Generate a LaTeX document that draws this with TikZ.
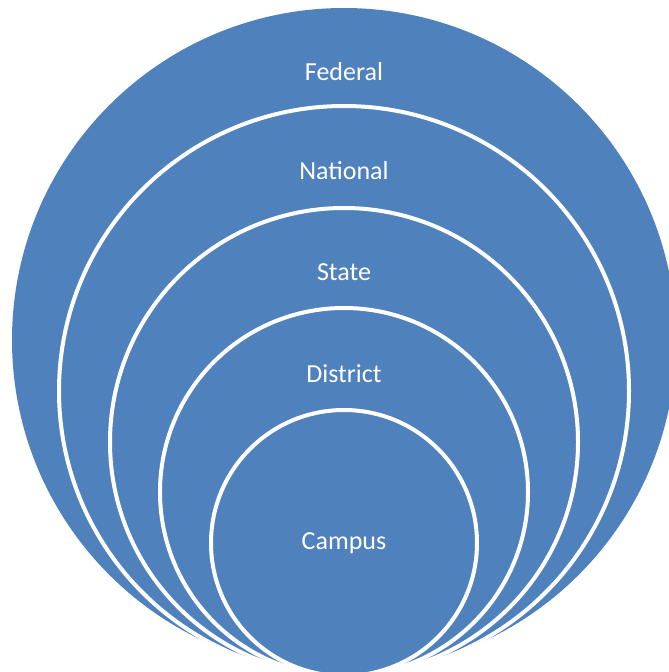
\documentclass[tikz,border=0pt]{standalone}
\usepackage{fontspec}
\setmainfont{Carlito}
\usetikzlibrary{positioning}
\definecolor{ringblue}{RGB}{79,129,189}

\begin{document}
\begin{tikzpicture}[x=1pt, y=-1pt,
  ring/.style = {shape=circle, fill=ringblue, draw=white,
    line width=4pt, inner sep=0pt, outer sep=0pt},
  level/.style = {text=white, font=\fontsize{26}{30}\selectfont,
    inner sep=0pt}]
  \useasboundingbox (0,0) rectangle (669,672);
  \clip (0,0) rectangle (669,672);
  \node[ring, draw=none, minimum size=664pt] (federal) at (344,340) {};
  \node[ring, minimum size=570pt] (national) at (344,391) {};
  \node[ring, minimum size=468pt] (state) at (344,442) {};
  \node[ring, minimum size=368pt] (district) at (344,492) {};
  \node[ring, minimum size=266pt] (campus) at (344,543) {};
  % labels sit near the top of each ring
  \node[level] (federalText) at ([yshift=-64pt]federal.north) {Federal};
  \node[level] (nationalText) at ([yshift=-65pt]national.north) {National};
  \node[level] (stateText) at ([yshift=-64pt]state.north) {State};
  \node[level] (districtText) at ([yshift=-66pt]district.north) {District};
  \node[level] (campusText) at (campus.center) {Campus};
\end{tikzpicture}
\end{document}
